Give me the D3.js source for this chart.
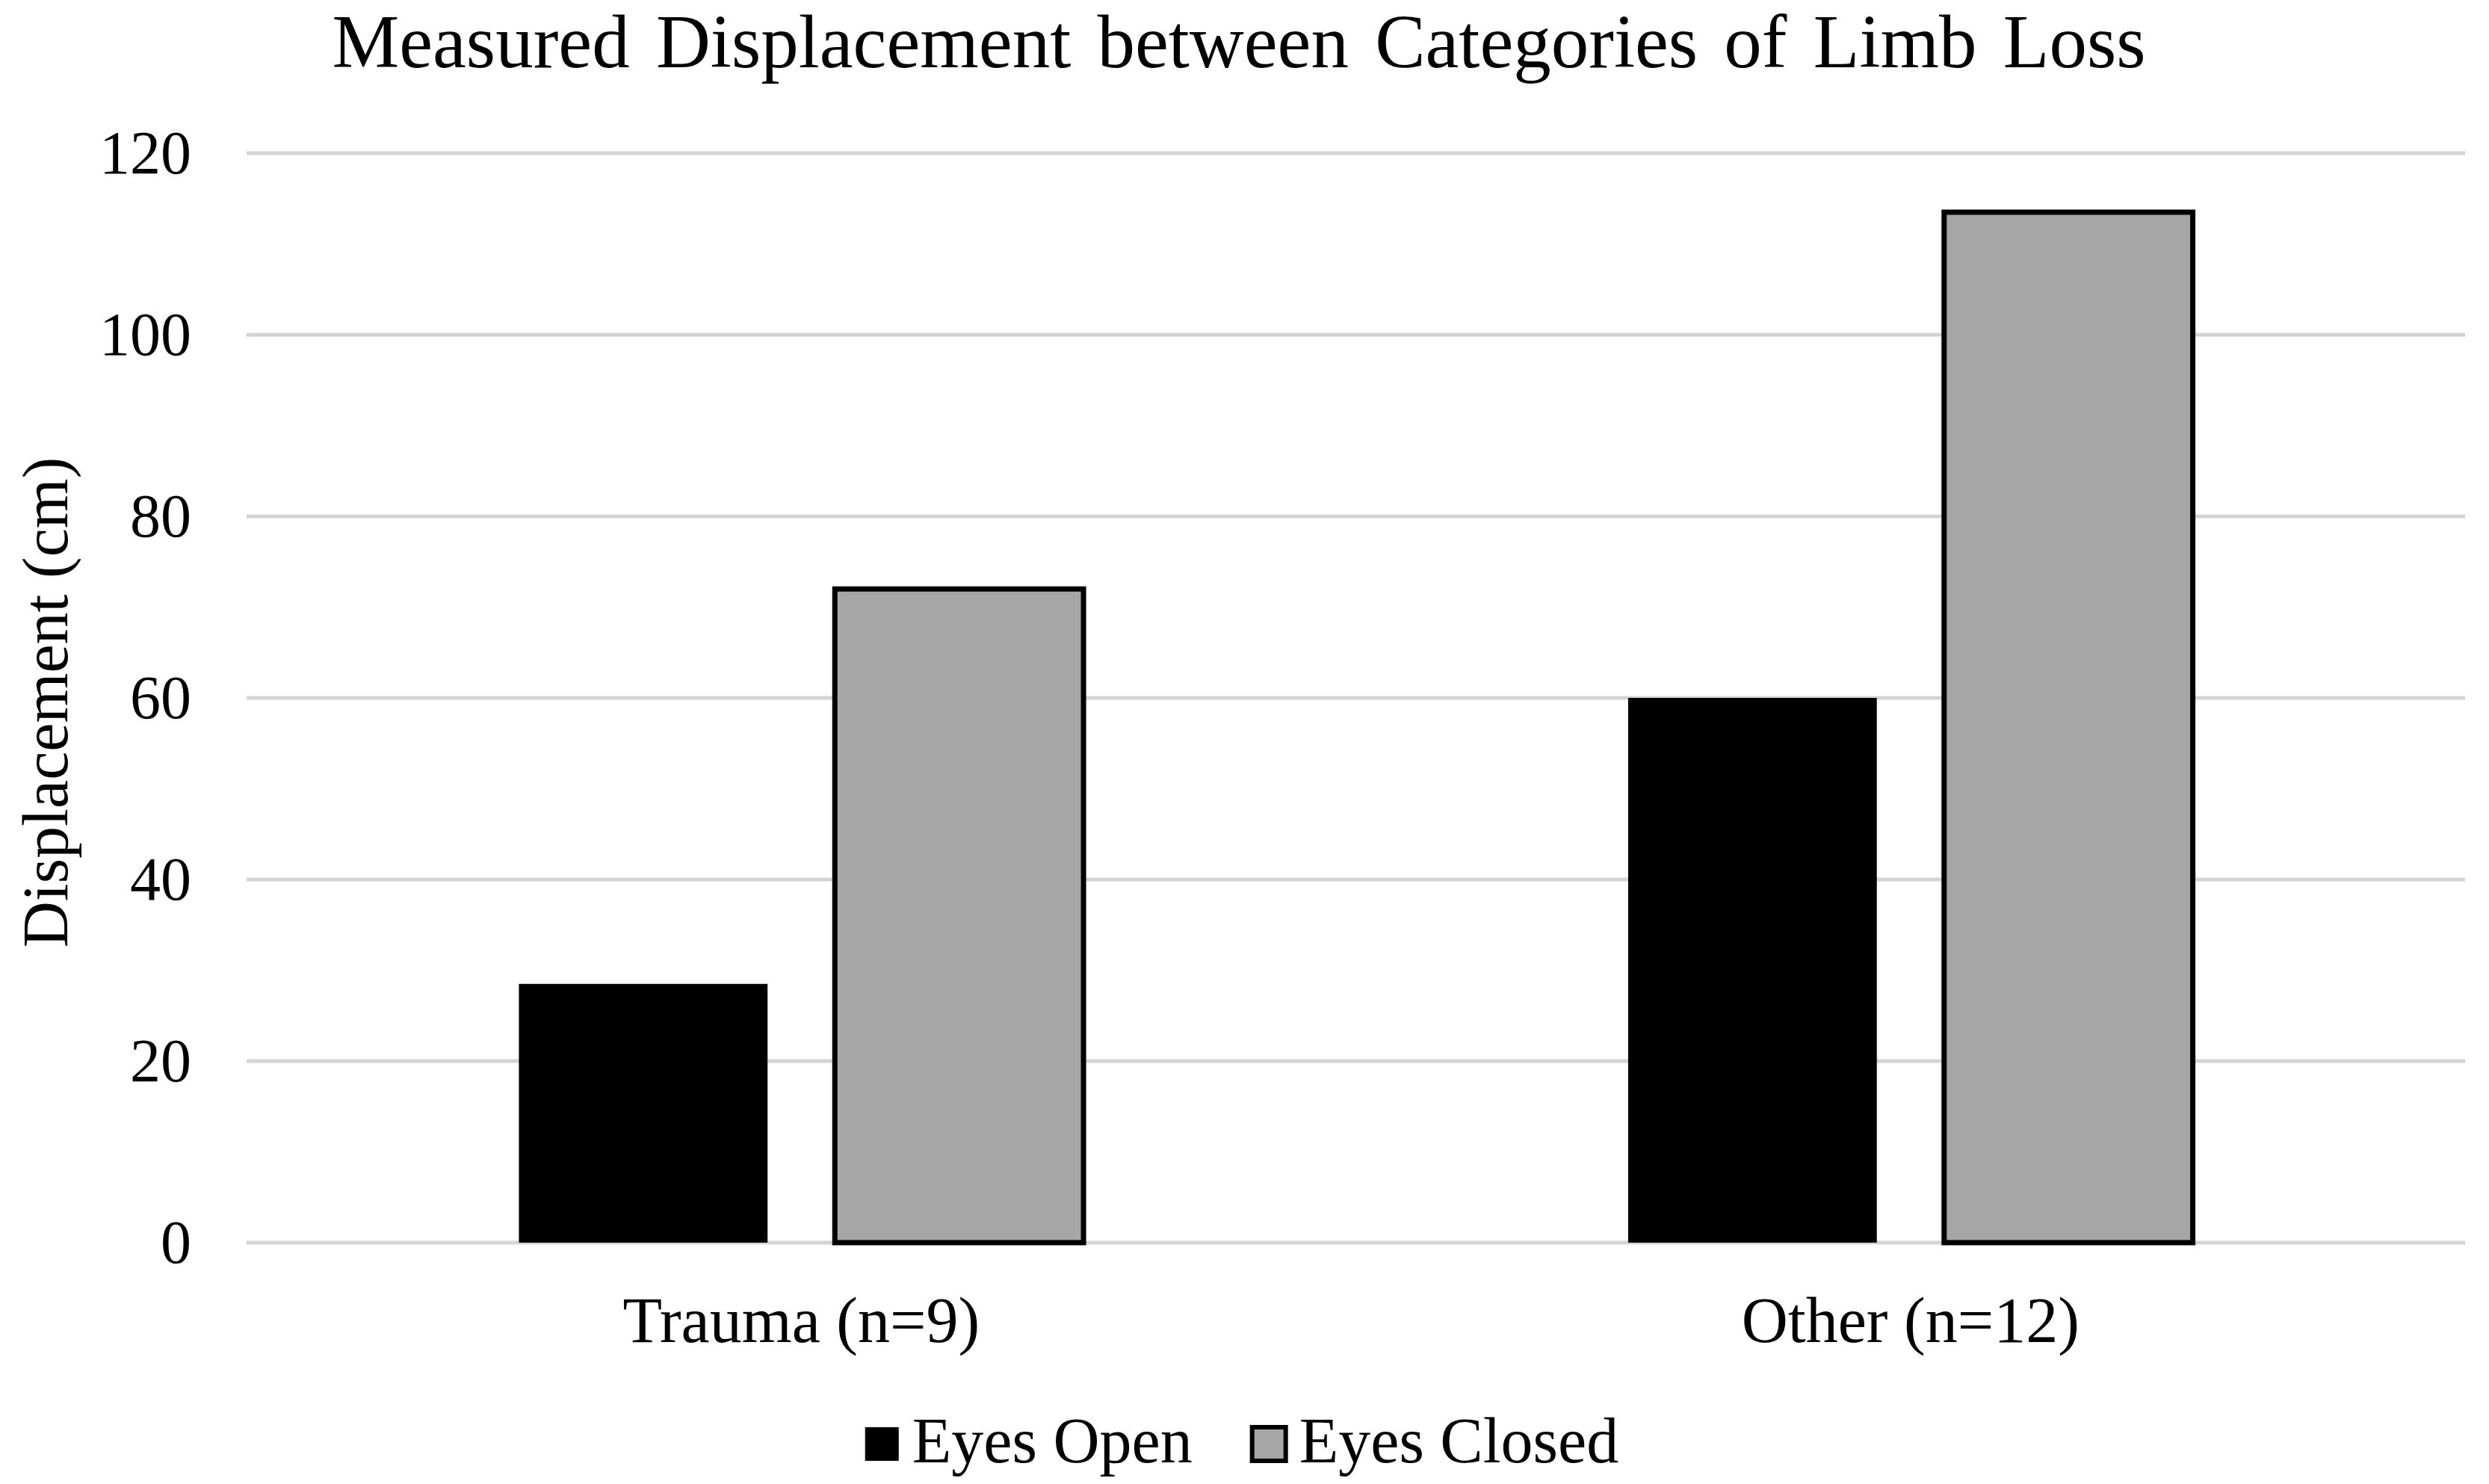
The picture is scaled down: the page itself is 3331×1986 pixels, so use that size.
<!DOCTYPE html>
<html>
<head>
<meta charset="utf-8">
<script src="https://cdn.jsdelivr.net/npm/d3@7"></script>
<style>
  html, body { margin: 0; padding: 0; background: #fff; }
  text { font-family: "Liberation Serif", "Times New Roman", serif; fill: #000; }
</style>
</head>
<body>
<div id="chart"></div>
<script>
// chart data
const categories = ["Trauma (n=9)", "Other (n=12)"];
const seriesNames = ["Eyes Open", "Eyes Closed"];
const eyesOpen = [28.5, 60];
const eyesClosed = [72, 113.5];
const yTicks = [0, 20, 40, 60, 80, 100, 120];

const width = 3331, height = 1986;
const margin = { left: 330, right: 32, top: 205, bottom: 323 };

const svg = d3.select("#chart").append("svg")
    .attr("width", width)
    .attr("height", height);

const x0 = d3.scaleBand()
    .domain(categories)
    .range([margin.left, width - margin.right])
    .paddingInner(0.491)
    .paddingOuter(0.2455);

const x1 = d3.scaleBand()
    .domain(seriesNames)
    .range([0, x0.bandwidth()])
    .paddingInner(0.213);

const y = d3.scaleLinear()
    .domain([0, 120])
    .range([height - margin.bottom, margin.top]);

const fills = { "Eyes Open": "#000000", "Eyes Closed": "#a6a6a6" };
const strokes = { "Eyes Open": "none", "Eyes Closed": "#000000" };

// gridlines
svg.append("g")
    .selectAll("line")
    .data(yTicks)
    .join("line")
    .attr("x1", margin.left)
    .attr("x2", width - margin.right)
    .attr("y1", d => y(d))
    .attr("y2", d => y(d))
    .attr("stroke", "#d4d4d4")
    .attr("stroke-width", 5);

// y axis labels
const yAxis = d3.axisLeft(y).tickValues(yTicks).tickSize(0).tickPadding(74);
const yg = svg.append("g")
    .attr("transform", `translate(${margin.left},0)`)
    .call(yAxis);
yg.select(".domain").remove();
yg.selectAll("text")
    .style("font-family", '"Liberation Serif", "Times New Roman", serif')
    .style("font-size", "82px")
    .attr("fill", "#000");

// bars
const rows = categories.map((c, i) => ({
    category: c,
    values: [
        { key: "Eyes Open", value: eyesOpen[i] },
        { key: "Eyes Closed", value: eyesClosed[i] }
    ]
}));

const groups = svg.append("g")
    .selectAll("g")
    .data(rows)
    .join("g")
    .attr("transform", d => `translate(${x0(d.category)},0)`);

groups.selectAll("rect")
    .data(d => d.values)
    .join("rect")
    .attr("x", d => x1(d.key))
    .attr("width", x1.bandwidth())
    .attr("y", d => y(d.value))
    .attr("height", d => y(0) - y(d.value))
    .attr("fill", d => fills[d.key])
    .attr("stroke", d => strokes[d.key])
    .attr("stroke-width", 7);

// x axis labels
const xAxis = d3.axisBottom(x0).tickSize(0).tickPadding(72);
const xg = svg.append("g")
    .attr("transform", `translate(0,${y(0)})`)
    .call(xAxis);
xg.select(".domain").remove();
xg.selectAll("text")
    .style("font-family", '"Liberation Serif", "Times New Roman", serif')
    .style("font-size", "86px")
    .attr("fill", "#000");

// title
svg.append("text")
    .attr("x", 1658)
    .attr("y", 90)
    .attr("text-anchor", "middle")
    .style("font-size", "101px")
    .style("word-spacing", "10px")
    .text("Measured Displacement between Categories of Limb Loss");

// y axis title
svg.append("text")
    .attr("transform", "translate(90,940) rotate(-90)")
    .attr("text-anchor", "middle")
    .style("font-size", "86px")
    .text("Displacement (cm)");

// legend
const legend = svg.append("g");
const box = 45, gapText = 18, gapItem = 80;
let lx = 0;
seriesNames.forEach(name => {
    const item = legend.append("g").attr("transform", `translate(${lx},0)`);
    item.append("rect")
        .attr("x", 0).attr("y", -box)
        .attr("width", box).attr("height", box)
        .attr("fill", fills[name])
        .attr("stroke", strokes[name] === "none" ? "none" : "#000")
        .attr("stroke-width", 6);
    const t = item.append("text")
        .attr("x", box + gapText)
        .attr("y", 2)
        .style("font-size", "86px")
        .text(name);
    lx += box + gapText + t.node().getComputedTextLength() + gapItem;
});
const legendWidth = lx - gapItem;
legend.attr("transform", `translate(${1662 - legendWidth / 2},1955)`);
</script>
</body>
</html>
